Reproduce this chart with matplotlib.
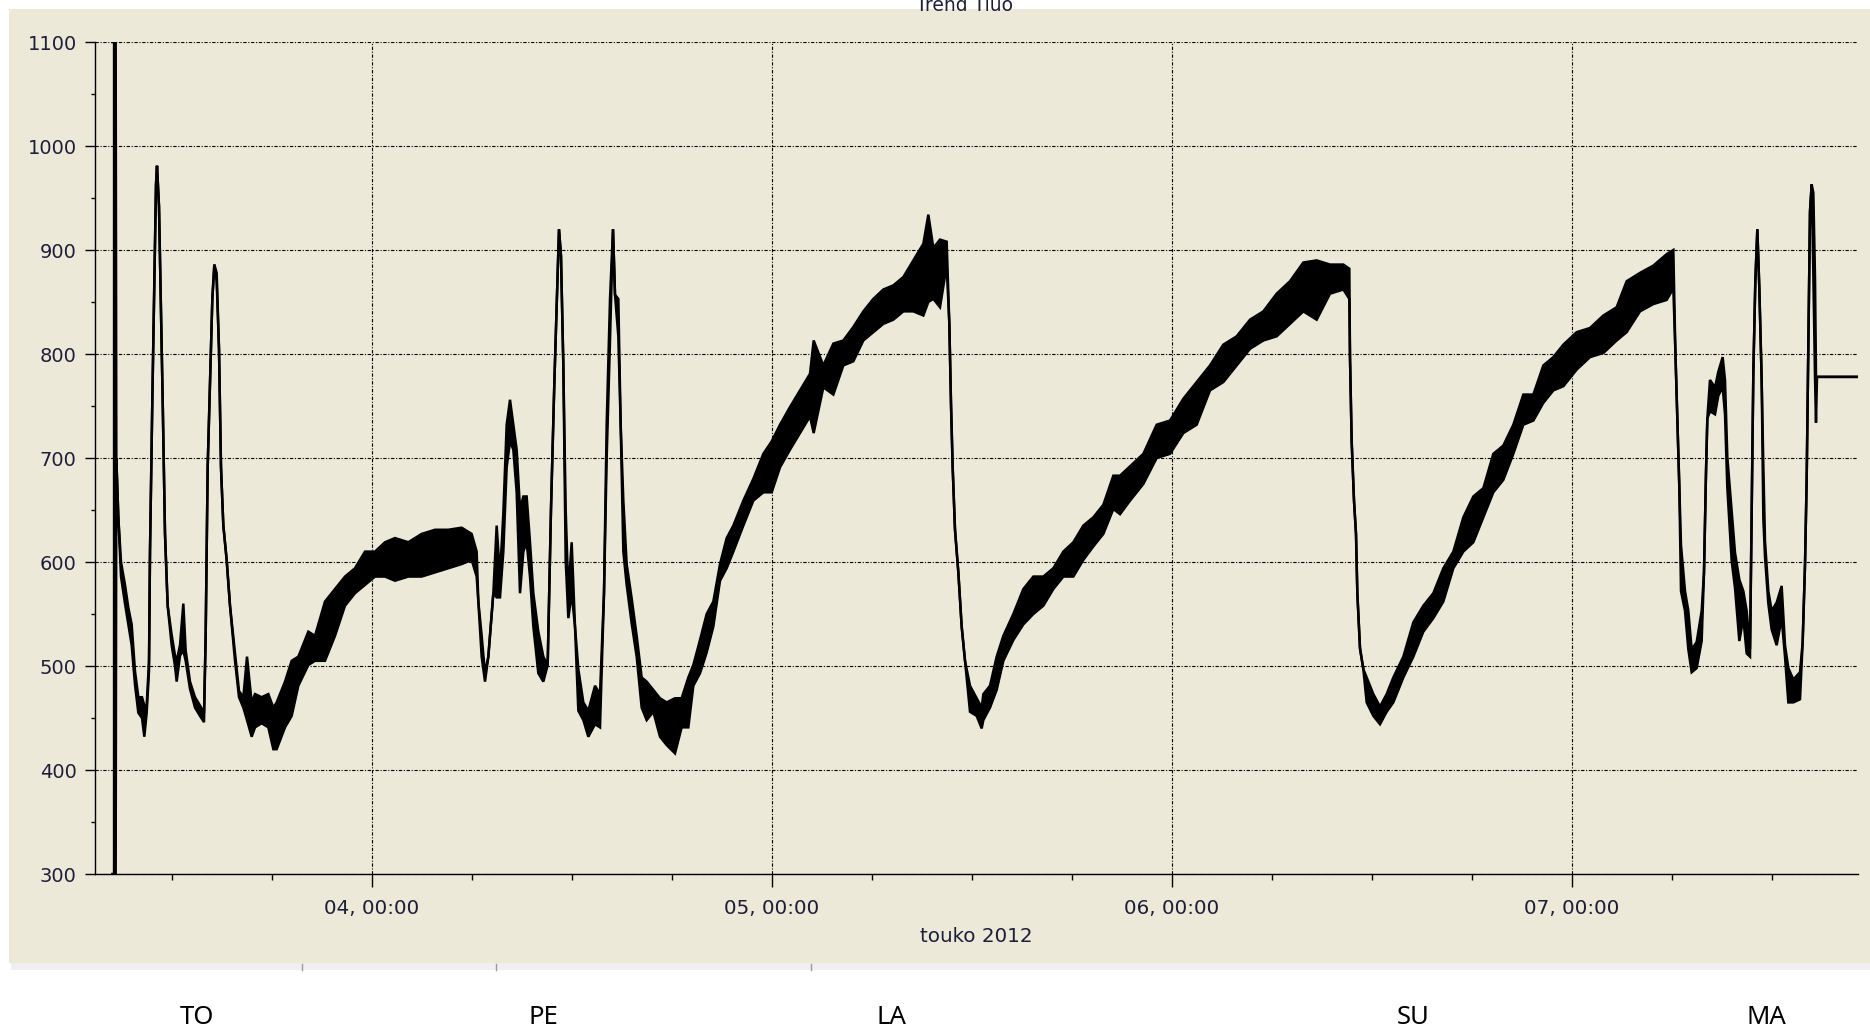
import matplotlib
matplotlib.use("Agg")
import matplotlib.pyplot as plt
import matplotlib.dates as mdates
from matplotlib.patches import Rectangle
from matplotlib.lines import Line2D
from matplotlib.ticker import MultipleLocator
from datetime import datetime, timedelta

# ---- data: trend of one measurement, 3.-7.5.2012 -------------------------
# hours since 2012-05-03 00:00, with the lower / upper edge of the noisy trace
hours = [8.42, 8.62, 8.66, 8.78, 8.94, 9.18, 9.38, 9.58, 9.78, 9.98, 10.2, 10.34, 10.48,
         10.62, 10.68, 10.82, 10.94, 11.04, 11.10, 11.22, 11.30, 11.44, 11.58, 11.74,
         11.98, 12.18, 12.28, 12.48, 12.68, 12.82, 13.08, 13.38, 13.68, 13.92, 14.02,
         14.14, 14.28, 14.42, 14.54, 14.68, 14.82, 14.94, 15.08, 15.28, 15.48, 15.78,
         16.02, 16.28, 16.5, 16.78, 16.98, 17.38, 17.78, 18.08, 18.28, 18.78, 19.18,
         19.58, 20.18, 20.58, 21.18, 21.78, 22.38, 22.98, 23.58, 24.18, 24.78, 25.38,
         26.18, 26.98, 27.78, 28.58, 29.38, 29.98, 30.28, 30.38, 30.58, 30.78, 30.98,
         31.28, 31.48, 31.68, 31.88, 32.08, 32.28, 32.48, 32.68, 32.88, 33.08, 33.28,
         33.48, 33.68, 33.98, 34.28, 34.54, 34.74, 34.94, 35.08, 35.22, 35.34, 35.48,
         35.62, 35.78, 35.98, 36.18, 36.38, 36.68, 36.98, 37.38, 37.68, 37.92, 38.08,
         38.28, 38.46, 38.58, 38.78, 38.92, 39.08, 39.28, 39.58, 39.88, 40.18, 40.48,
         40.88, 41.28, 41.68, 42.18, 42.58, 42.98, 43.28, 43.68, 44.08, 44.48, 44.88,
         45.28, 45.68, 46.28, 46.88, 47.48, 47.98, 48.48, 49.08, 49.68, 50.28, 50.5,
         51.08, 51.68, 52.28, 52.88, 53.48, 54.08, 54.68, 55.28, 55.88, 56.48, 57.08,
         57.38, 57.68, 58.08, 58.48, 58.64, 58.74, 58.84, 58.98, 59.18, 59.38, 59.58,
         59.88, 60.28, 60.58, 60.68, 61.08, 61.48, 61.88, 62.48, 63.08, 63.68, 64.28,
         64.88, 65.48, 66.08, 66.68, 67.28, 67.88, 68.48, 68.88, 69.48, 70.28, 71.08,
         71.88, 72.68, 73.48, 74.28, 75.08, 75.88, 76.68, 77.48, 78.28, 79.08, 79.88,
         80.68, 81.48, 82.28, 82.64, 82.68, 82.78, 82.92, 83.04, 83.12, 83.28, 83.48,
         83.68, 84.08, 84.48, 84.88, 85.28, 85.88, 86.48, 87.08, 87.68, 88.28, 88.88,
         89.48, 90.08, 90.68, 91.28, 91.88, 92.48, 93.08, 93.68, 94.28, 94.88, 95.48,
         96.28, 97.08, 97.88, 98.68, 99.28, 100.08, 100.88, 101.68, 102.08, 102.2,
         102.32, 102.44, 102.54, 102.78, 102.98, 103.18, 103.48, 103.78, 103.92, 104.04,
         104.12, 104.28, 104.58, 104.78, 105.04, 105.18, 105.32, 105.58, 105.78, 106.04,
         106.28, 106.48, 106.68, 106.78, 106.88, 107.0, 107.12, 107.24, 107.38, 107.48,
         107.58, 107.78, 107.98, 108.28, 108.58, 108.78, 108.98, 109.28, 109.68, 109.84,
         109.98, 110.08, 110.18, 110.28, 110.38, 110.48, 110.58, 110.64, 110.70, 113.2]

low = [300, 300, 700, 643, 586, 560, 540, 520, 482, 455, 450, 432, 455,
       495, 610, 756, 866, 963, 981, 942, 876, 756, 627, 558,
       520, 500, 485, 510, 515, 505, 478, 460, 452, 446, 529,
       691, 772, 853, 886, 870, 805, 691, 635, 602, 558, 505,
       470, 460, 448, 432, 441, 445, 441, 420, 420, 441, 452,
       481, 501, 505, 505, 529, 558, 570, 578, 586, 586, 582,
       586, 586, 590, 594, 598, 602, 586, 562, 509, 485, 509,
       570, 566, 566, 610, 691, 716, 708, 667, 570, 610, 619,
       586, 538, 493, 485, 501, 651, 772, 845, 920, 894, 789,
       602, 546, 570, 538, 457, 448, 432, 444, 441, 570, 700,
       813, 920, 857, 817, 732, 610, 578, 541, 509, 460, 448,
       456, 432, 424, 416, 441, 441, 481, 493, 513, 538, 582,
       594, 610, 635, 659, 667, 667, 691, 708, 724, 740, 724,
       768, 761, 789, 793, 813, 821, 829, 833, 841, 841, 837,
       850, 853, 845, 885, 829, 752, 691, 631, 590, 538, 505,
       456, 452, 440, 448, 460, 477, 505, 525, 540, 550, 558,
       574, 586, 586, 602, 615, 627, 651, 646, 659, 675, 700,
       704, 724, 732, 765, 773, 789, 805, 813, 817, 829, 841,
       833, 858, 862, 853, 797, 716, 659, 627, 570, 517, 497,
       465, 452, 444, 456, 465, 489, 509, 533, 546, 562, 594,
       610, 619, 643, 667, 679, 704, 732, 736, 753, 765, 769,
       785, 797, 801, 813, 821, 841, 848, 852, 863, 804,
       738, 672, 572, 553, 516, 494, 498, 524, 590, 686,
       738, 745, 742, 760, 768, 742, 671, 601, 575, 524,
       546, 512, 509, 645, 782, 870, 920, 863, 775, 642,
       605, 560, 535, 520, 546, 509, 465, 465, 468, 523,
       597, 679, 804, 937, 963, 878, 778, 734, 778, 778]

high = [1100, 1100, 700, 643, 600, 578, 556, 540, 495, 470, 470, 462, 462,
        505, 610, 756, 866, 963, 981, 942, 876, 756, 627, 558,
        530, 510, 505, 520, 560, 515, 485, 470, 462, 455, 529,
        691, 772, 853, 886, 878, 805, 691, 635, 602, 558, 512,
        476, 470, 509, 465, 473, 470, 473, 460, 465, 485, 505,
        509, 533, 529, 562, 574, 586, 594, 610, 610, 619, 623,
        619, 627, 631, 631, 633, 627, 610, 562, 529, 493, 509,
        570, 635, 586, 647, 732, 756, 732, 708, 651, 663, 663,
        619, 570, 533, 509, 501, 651, 772, 845, 920, 894, 789,
        651, 570, 619, 538, 497, 465, 457, 481, 473, 570, 732,
        853, 920, 857, 853, 732, 659, 598, 565, 529, 489, 485,
        477, 469, 465, 469, 469, 489, 501, 525, 550, 562, 598,
        623, 635, 659, 680, 704, 716, 732, 749, 765, 781, 813,
        789, 810, 813, 826, 841, 853, 862, 866, 874, 890, 906,
        934, 902, 910, 908, 829, 752, 691, 631, 590, 538, 505,
        481, 469, 460, 473, 481, 509, 529, 550, 574, 586, 586,
        594, 610, 619, 635, 643, 655, 683, 683, 692, 704, 732,
        736, 757, 773, 789, 809, 817, 833, 841, 858, 870, 888,
        890, 886, 886, 882, 797, 716, 659, 627, 570, 517, 497,
        489, 473, 461, 473, 489, 509, 542, 558, 570, 594, 610,
        643, 663, 671, 704, 712, 732, 761, 761, 789, 797, 809,
        821, 825, 837, 845, 870, 878, 885, 896, 900, 804,
        738, 672, 616, 572, 553, 516, 523, 553, 590, 686,
        738, 775, 768, 783, 797, 775, 701, 649, 609, 583,
        572, 553, 516, 645, 782, 870, 920, 863, 775, 693,
        620, 572, 553, 561, 577, 520, 498, 487, 494, 523,
        597, 679, 804, 937, 963, 955, 874, 778, 778, 778]

y_ticks = list(range(300, 1101, 100))
day_names = ["TO", "PE", "LA", "SU", "MA"]
title_text = "Trend Tiuo"
axis_label = "touko 2012"

# ---- figure layout (pixels) ----------------------------------------------
W, H = 1870, 1032
DPI = 100
BEIGE = "#ECE9D8"
TEXT = "#1e1e3a"
day_label_x = [197, 543, 891, 1413, 1766]

start = datetime(2012, 5, 3)
t = [start + timedelta(hours=h) for h in hours]

fig = plt.figure(figsize=(W / DPI, H / DPI), dpi=DPI, facecolor="white")

# window background and the scroll strip under it
fig.patches.append(Rectangle((9 / W, 1 - 963 / H), (W - 9) / W, (963 - 9) / H,
                             transform=fig.transFigure, facecolor=BEIGE,
                             edgecolor="none", zorder=-10))
fig.patches.append(Rectangle((11 / W, 1 - 970 / H), (W - 11) / W, 7 / H,
                             transform=fig.transFigure, facecolor="#EFEFEF",
                             edgecolor="none", zorder=-10))
for xd in [302, 496, 811]:
    fig.lines.append(Line2D([xd / W, xd / W], [1 - 964 / H, 1 - 970 / H],
                            transform=fig.transFigure, color="#9A9A9A", lw=1,
                            zorder=-5))

ax = fig.add_axes([95 / W, 1 - 874 / H, (1858 - 95) / W, (874 - 42) / H])
ax.set_zorder(2)
ax.patch.set_visible(False)

# trace
ax.fill_between(t, low, high, color="black", lw=0, zorder=3)
ax.plot(t, low, color="black", lw=1.8, zorder=3, solid_joinstyle="miter")
ax.plot(t, high, color="black", lw=1.8, zorder=3, solid_joinstyle="miter")

ax.set_xlim(start + timedelta(hours=7.38), start + timedelta(hours=113.16))
ax.set_ylim(300, 1100)

ax.set_yticks(y_ticks)
ax.yaxis.set_minor_locator(MultipleLocator(50))
ax.xaxis.set_major_locator(mdates.DayLocator())
ax.xaxis.set_minor_locator(mdates.HourLocator(byhour=range(0, 24, 6)))
ax.xaxis.set_major_formatter(mdates.DateFormatter("%d, %H:%M"))

for s in ["top", "right"]:
    ax.spines[s].set_visible(False)
for s in ["left", "bottom"]:
    ax.spines[s].set_linewidth(1.0)
    ax.spines[s].set_color("black")

ax.tick_params(axis="y", which="major", length=7.2, width=1.0, pad=6,
               labelsize=14, labelcolor=TEXT)
ax.tick_params(axis="y", which="minor", length=3, width=1.0)
ax.tick_params(axis="x", which="major", length=9.4, width=1.0, pad=8.5,
               labelsize=14.3, labelcolor=TEXT)
ax.tick_params(axis="x", which="minor", length=4.3, width=1.0)

grid_style = (0, (3, 1.5, 1, 1.5))
ax.grid(True, which="major", axis="both", color="black", lw=0.8,
        linestyle=grid_style, zorder=1)
ax.set_axisbelow(True)

ax.set_xlabel(axis_label, fontsize=14.3, color=TEXT, labelpad=6.5)

# caption cut by the window edge
fig.text(964 / W, 1 - 11 / H, title_text, ha="center", va="baseline",
         fontsize=13.5, color=TEXT, zorder=5)

# weekday names under the chart
for name, xp in zip(day_names, day_label_x):
    fig.text(xp / W, 1 - 1017 / H, name, ha="center", va="center",
             fontsize=18.5, family=["Noto Sans", "DejaVu Sans"], color="black")

fig.savefig("out.png", dpi=DPI, facecolor="white")
